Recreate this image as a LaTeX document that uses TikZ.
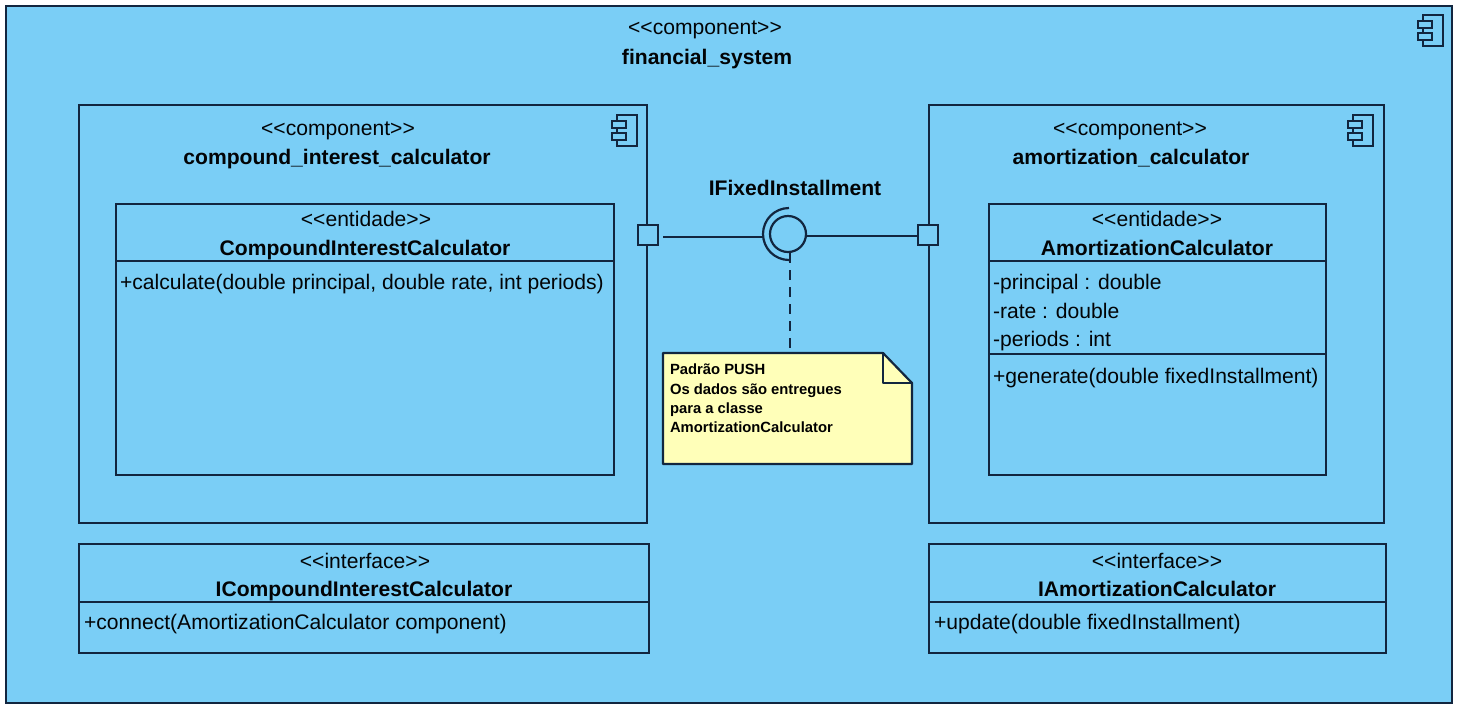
\documentclass[tikz,border=0pt]{standalone}
\usepackage{fontspec}
\setmainfont{Liberation Sans}
\definecolor{compfill}{HTML}{7ACEF6}
\definecolor{ink}{HTML}{12263F}
\definecolor{notefill}{HTML}{FFFFB9}
\newcommand{\stereo}[1]{<\kern0pt<#1>\kern0pt>}
\tikzset{
  px/.style={x=0.5pt,y=-0.5pt},
  every node/.append style={outer sep=0pt},
  ln/.style={draw=ink,line width=1.1pt},
  comp/.style={ln,fill=compfill,rectangle,inner sep=0pt,anchor=north west},
  boxwh/.style 2 args={minimum width=#1*0.5pt,minimum height=#2*0.5pt},
  portbox/.style={ln,fill=compfill,rectangle,inner sep=0pt,minimum size=10pt},
  lbl/.style={anchor=base,inner sep=0pt,font=\fontsize{10.55}{12}\selectfont,text=black!90!ink},
  ttl/.style={lbl,font=\fontsize{10.55}{12}\bfseries\selectfont},
  mem/.style={lbl,anchor=base west},
  notetxt/.style={anchor=base west,inner sep=0pt,font=\fontsize{7.4}{8}\bfseries\selectfont,text=black},
  compicon/.pic={
    \draw[ln] (5,0) rectangle (25,31);
    \draw[ln,fill=compfill] (0,6) rectangle (14,13);
    \draw[ln,fill=compfill] (0,18) rectangle (14,25);
  }
}
\begin{document}
\begin{tikzpicture}[px]
\useasboundingbox (0,0) rectangle (1459,709);
% containers
\node[comp,boxwh={1446}{697}] (sys) at (6,6) {};
\node[comp,boxwh={568}{418}] (left) at (79,105) {};
\node[comp,boxwh={455}{418}] (right) at (929,105) {};
\node[comp,boxwh={498}{271}] (c1) at (116,204) {};
\node[comp,boxwh={337}{271}] (c2) at (989,204) {};
\node[comp,boxwh={570}{109}] (i1) at (79,544) {};
\node[comp,boxwh={457}{109}] (i2) at (929,544) {};
% compartment separators
\coordinate (c1a) at (116,261); \draw[ln] (c1a) -- (c1a -| c1.east);
\coordinate (c2a) at (989,261); \draw[ln] (c2a) -- (c2a -| c2.east);
\coordinate (c2b) at (989,354); \draw[ln] (c2b) -- (c2b -| c2.east);
\coordinate (i1a) at (79,602); \draw[ln] (i1a) -- (i1a -| i1.east);
\coordinate (i2a) at (929,602); \draw[ln] (i2a) -- (i2a -| i2.east);
% icons
\pic at (1418,15) {compicon};
\pic at (612,115) {compicon};
\pic at (1348,115) {compicon};
% labels
\node[lbl] (t1) at (705,34) {\stereo{component}};
\node[ttl] (t2) at (707,64) {financial\_system};
\node[lbl] (t3) at (338,135) {\stereo{component}};
\node[ttl] (t4) at (337,164) {compound\_interest\_calculator};
\node[lbl] (t5) at (1130,135) {\stereo{component}};
\node[ttl] (t6) at (1131,164) {amortization\_calculator};
\node[lbl] (t7) at (366,226) {\stereo{entidade}};
\node[ttl] (t8) at (365,255) {CompoundInterestCalculator};
\node[lbl] (t9) at (1157,226) {\stereo{entidade}};
\node[ttl] (t10) at (1157,255) {AmortizationCalculator};
\node[lbl] (t11) at (365,568) {\stereo{interface}};
\node[ttl] (t12) at (364,596) {ICompoundInterestCalculator};
\node[lbl] (t13) at (1157,568) {\stereo{interface}};
\node[ttl] (t14) at (1157,596) {IAmortizationCalculator};
\node[mem] (m1) at (120,289) {+calculate(double principal, double rate, int periods)};
\node[mem] (m2) at (993,289) {-principal : double};
\node[mem] (m3) at (993,318) {-rate : double};
\node[mem] (m4) at (993,346) {-periods : int};
\node[mem] (m5) at (993,383) {+generate(double fixedInstallment)};
\node[mem] (m6) at (84,629) {+connect(AmortizationCalculator component)};
\node[mem] (m7) at (934,629) {+update(double fixedInstallment)};
\node[ttl] (t15) at (795,195) {IFixedInstallment};
% ports and interface
\node[portbox] (portL) at (648,235) {};
\node[portbox] (portR) at (928,235) {};
\node[circle,ln,inner sep=0pt,minimum size=18pt] (ball) at (788,234) {};
\draw[ln] (789,208) arc[start angle=-90,end angle=-270,radius=26];
\draw[ln] ([xshift=2.5pt,yshift=-1pt]portL.east) -- ([xshift=-12.5pt,yshift=-1.5pt]ball.center);
\draw[ln] (ball.east |- 0,236) -- ([xshift=-.5pt,yshift=-.5pt]portR.west);
% note
\node[rectangle,inner sep=0pt,anchor=north west,boxwh={249}{111}] (note) at (663,353) {};
\draw[ln,fill=notefill,line join=round] (note.north west) -- (883,353) -- (912,383) -- (note.south east) -- (note.south west) -- cycle;
\draw[ln,line join=round] (883,353) -- (883,383) -- (912,383);
\coordinate (dashTop) at (790,253);
\draw[ln,dash pattern=on 5pt off 3.5pt] (dashTop) -- (dashTop |- note.north);
\node[notetxt] (n1) at (670,374) {Padrão PUSH};
\node[notetxt] (n2) at (670,394) {Os dados são entregues};
\node[notetxt] (n3) at (670,413) {para a classe};
\node[notetxt] (n4) at (670,432) {AmortizationCalculator};
\end{tikzpicture}
\end{document}
